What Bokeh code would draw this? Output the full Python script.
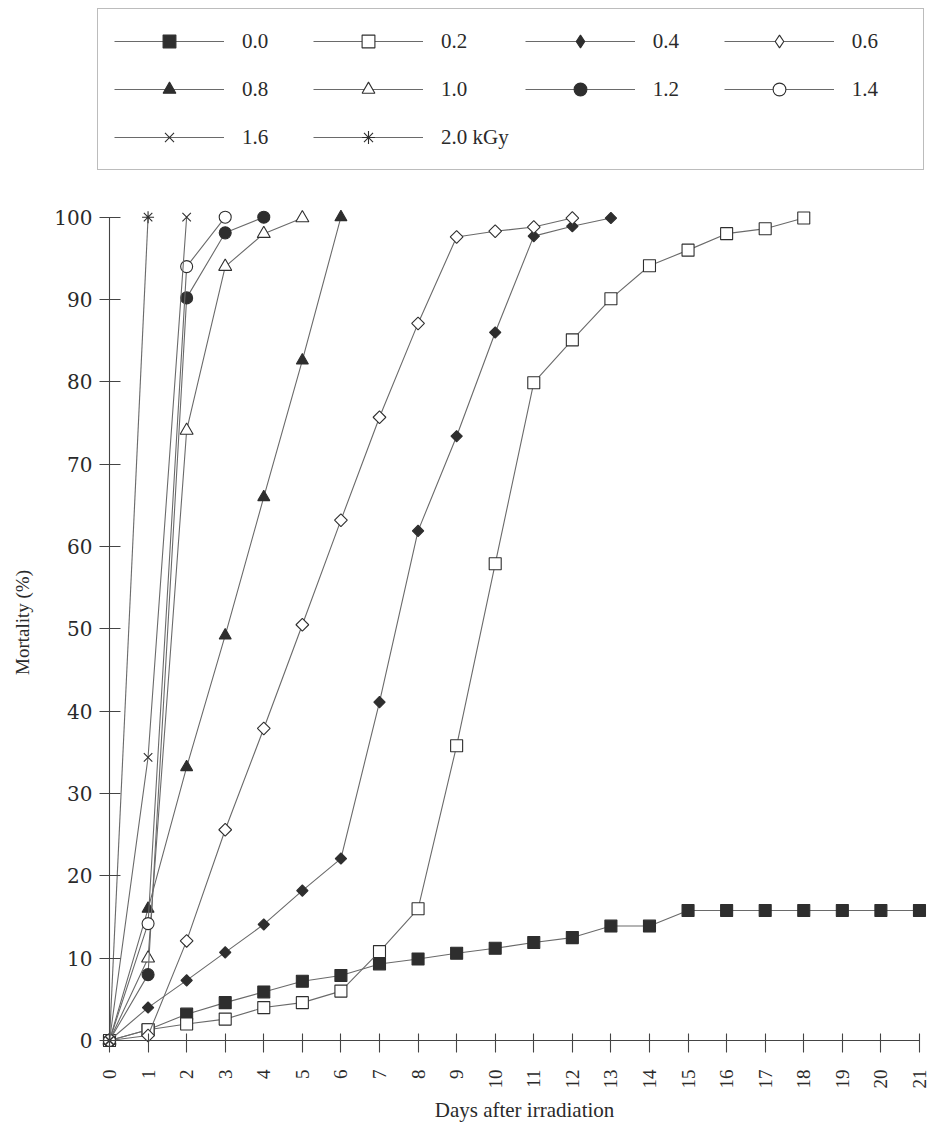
import math
from bokeh.plotting import figure
from bokeh.models import Range1d, FixedTicker, Legend, LegendItem, Label
from bokeh.embed import file_html
from bokeh.resources import INLINE

# ---------------- data ----------------
day_ticks = list(range(0, 22))
mort_ticks = [0, 10, 20, 30, 40, 50, 60, 70, 80, 90, 100]

dose_labels = ["0.0", "0.2", "0.4", "0.6", "0.8", "1.0", "1.2", "1.4", "1.6", "2.0 kGy"]

days_00 = list(range(0, 22))
mort_00 = [0, 1.3, 3.2, 4.6, 5.9, 7.2, 7.9, 9.3, 9.9, 10.6, 11.2, 11.9, 12.5, 13.9, 13.9,
           15.8, 15.8, 15.8, 15.8, 15.8, 15.8, 15.8]

days_02 = list(range(0, 19))
mort_02 = [0, 1.3, 2.0, 2.6, 4.0, 4.6, 6.0, 10.8, 16.0, 35.8, 57.9, 79.9, 85.1, 90.1, 94.1,
           96.0, 98.0, 98.6, 99.9]

days_04 = list(range(0, 14))
mort_04 = [0, 4.0, 7.3, 10.7, 14.1, 18.2, 22.1, 41.1, 61.9, 73.4, 86.0, 97.7, 98.9, 99.9]

days_06 = list(range(0, 13))
mort_06 = [0, 0.6, 12.1, 25.6, 37.9, 50.5, 63.2, 75.7, 87.1, 97.6, 98.3, 98.8, 99.9]

days_08 = list(range(0, 7))
mort_08 = [0, 16.0, 33.2, 49.2, 66.0, 82.6, 100]

days_10 = list(range(0, 6))
mort_10 = [0, 10.0, 74.1, 94.0, 98.0, 99.9]

days_12 = list(range(0, 5))
mort_12 = [0, 8.0, 90.2, 98.1, 100]

days_14 = list(range(0, 4))
mort_14 = [0, 14.2, 94.0, 100]

days_16 = list(range(0, 3))
mort_16 = [0, 34.4, 100]

days_20 = list(range(0, 2))
mort_20 = [0, 100]

series_days = [days_00, days_02, days_04, days_06, days_08, days_10, days_12, days_14, days_16, days_20]
series_mort = [mort_00, mort_02, mort_04, mort_06, mort_08, mort_10, mort_12, mort_14, mort_16, mort_20]

# ---------------- styles ----------------
DARK = "#2e2e2e"
LINE = "#6a6a6a"
styles = [
    dict(marker="square", size=12, angle=0, fill=DARK, legend_marker=None),
    dict(marker="square", size=12, angle=0, fill="white", legend_marker=None),
    dict(marker="square", size=8, angle=math.pi / 4, fill=DARK, legend_marker="diamond"),
    dict(marker="square", size=9, angle=math.pi / 4, fill="white", legend_marker="diamond"),
    dict(marker="triangle", size=12, angle=0, fill=DARK, legend_marker=None),
    dict(marker="triangle", size=13, angle=0, fill="white", legend_marker=None),
    dict(marker="circle", size=12, angle=0, fill=DARK, legend_marker=None),
    dict(marker="circle", size=12, angle=0, fill="white", legend_marker=None),
    dict(marker="x", size=12, angle=0, fill="white", legend_marker=None),
    dict(marker="asterisk", size=12, angle=0, fill="white", legend_marker=None),
]

# the frame covers the whole canvas; axes are drawn at 0 with fixed_location
p = figure(width=929, height=1123,
           x_range=Range1d(-2.826, 21.26), y_range=Range1d(-10.08, 126.32),
           output_backend="svg", toolbar_location=None,
           min_border_left=0, min_border_right=0, min_border_top=0, min_border_bottom=0)
p.outline_line_color = None
p.grid.visible = False
p.background_fill_color = "white"
p.border_fill_color = "white"

items = []
for lab, xs, ys, st in zip(dose_labels, series_days, series_mort, styles):
    lr = p.line(xs, ys, line_color=LINE, line_width=1.1)
    sr = p.scatter(xs, ys, marker=st["marker"], size=st["size"], angle=st["angle"],
                   fill_color=st["fill"], line_color=DARK, line_width=1.1)
    rends = [lr, sr]
    if st["legend_marker"]:
        # legend-only proxy (hidden in the plot) so the key shows a diamond
        pr = p.scatter(xs, ys, marker=st["legend_marker"], size=st["size"],
                       fill_color=st["fill"], line_color=DARK, line_width=1.1, visible=False)
        rends = [lr, pr]
    items.append(LegendItem(label=lab, renderers=rends))

# axes
for ax in (p.xaxis[0], p.yaxis[0]):
    ax.fixed_location = 0
    ax.axis_line_color = "#444444"
    ax.axis_line_width = 1.1
    ax.major_tick_line_color = "#444444"
    ax.major_tick_line_width = 1.1
    ax.minor_tick_line_color = None
    ax.major_label_text_color = "#2a2a2a"

xa = p.xaxis[0]
xa.bounds = (0, 21)
xa.ticker = FixedTicker(ticks=day_ticks)
xa.major_tick_in = 7
xa.major_tick_out = 12
xa.major_label_standoff = 17
xa.major_label_orientation = math.pi / 2
xa.major_label_text_font = "Liberation Serif"
xa.major_label_text_font_size = "19px"

ya = p.yaxis[0]
ya.bounds = (0, 100)
ya.ticker = FixedTicker(ticks=mort_ticks)
ya.major_tick_in = 11
ya.major_tick_out = 10
ya.major_label_standoff = 7
ya.major_label_text_font = "DejaVu Serif"
ya.major_label_text_font_size = "20px"

p.add_layout(Label(x=10.76, y=-8.5, text="Days after irradiation", text_align="center",
                   text_baseline="alphabetic", text_font="Liberation Serif",
                   text_font_size="21px", text_color="#2a2a2a"))
p.add_layout(Label(x=-2.256, y=50.77, text="Mortality (%)", angle=math.pi / 2,
                   text_align="center", text_baseline="middle", text_font="Liberation Serif",
                   text_font_size="19px", text_color="#2a2a2a"))

legend = Legend(items=items, orientation="horizontal", ncols=4,
                location=(97, 953), margin=0,
                glyph_width=110, glyph_height=32, label_standoff=18, label_width=55,
                spacing=16, padding=16,
                label_text_font="Liberation Serif", label_text_font_size="21px",
                label_text_color="#2a2a2a",
                border_line_color="#7a7a7a", border_line_width=1,
                background_fill_color="white", background_fill_alpha=1.0,
                inactive_fill_alpha=0.0, click_policy="none")
p.add_layout(legend, "center")

open("out.html", "w").write(file_html(p, INLINE))
